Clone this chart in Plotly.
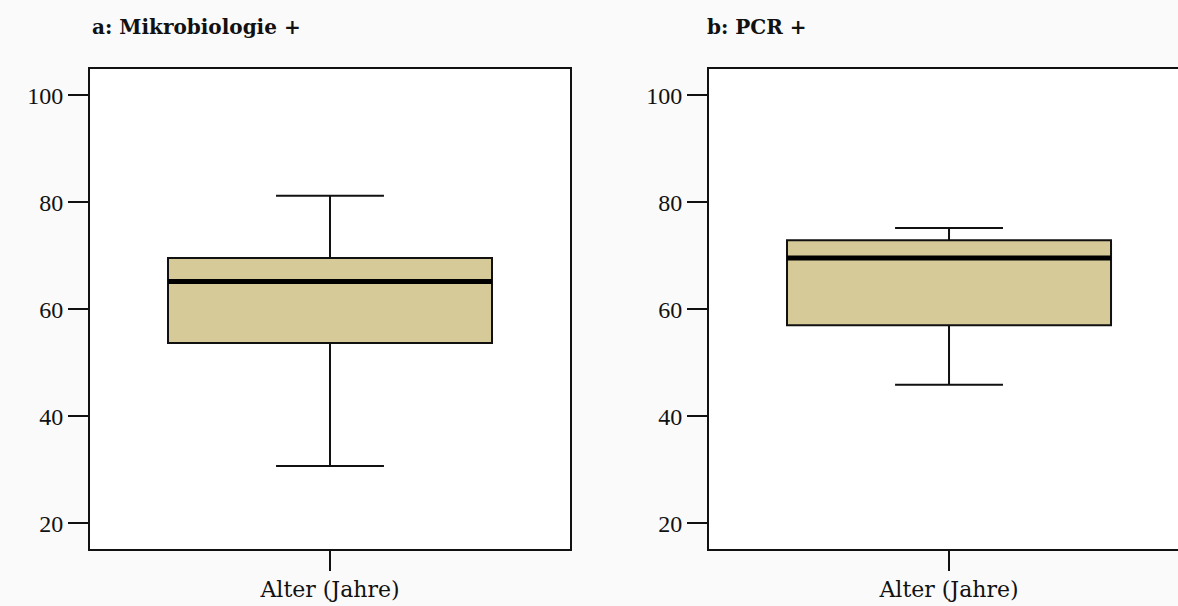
import plotly.graph_objects as go

# Box-plot summaries of age (years) for the two positive groups
panel_titles = ["a: Mikrobiologie +", "b: PCR +"]
category_label = "Alter (Jahre)"
lower_whisker = [30.7, 45.9]
q1 = [53.7, 57.0]
median = [65.2, 69.6]
q3 = [69.6, 72.9]
upper_whisker = [81.2, 75.2]
y_ticks = [20, 40, 60, 80, 100]

BOX_W = 0.675
FILL = "#d6ca99"
SERIF = "Liberation Serif"

fig = go.Figure()

for i in range(2):
    xa = "x" if i == 0 else "x2"
    ya = "y" if i == 0 else "y2"
    fig.add_trace(go.Box(
        x=[0], q1=[q1[i]], median=[median[i]], q3=[q3[i]],
        lowerfence=[lower_whisker[i]], upperfence=[upper_whisker[i]],
        width=BOX_W, whiskerwidth=0.333,
        fillcolor=FILL, line=dict(color="#111111", width=2),
        boxpoints=False, hoverinfo="skip", showlegend=False,
        xaxis=xa, yaxis=ya,
    ))
    # heavy median bar
    fig.add_trace(go.Scatter(
        x=[-BOX_W / 2, BOX_W / 2], y=[median[i], median[i]],
        mode="lines", line=dict(color="black", width=5),
        hoverinfo="skip", showlegend=False, xaxis=xa, yaxis=ya,
    ))

W, H = 1178, 606
y_dom = [1 - 549 / H, 1 - 69 / H]

xaxis_common = dict(
    tickmode="array", tickvals=[0], ticktext=[category_label],
    ticks="outside", ticklen=20, tickwidth=2, tickcolor="#111111",
    showline=True, linecolor="#111111", linewidth=2,
    showgrid=False, zeroline=False, fixedrange=True,
    tickfont=dict(family="DejaVu Serif", size=22, color="#111111"),
)
yaxis_common = dict(
    range=[15.2, 104.9], tickmode="array", tickvals=y_ticks,
    ticks="outside", ticklen=20, tickwidth=2, tickcolor="#111111",
    showline=True, linecolor="#111111", linewidth=2,
    showgrid=False, zeroline=False, fixedrange=True,
    tickfont=dict(family=SERIF, size=24, color="#111111"),
    domain=y_dom,
)

fig.update_layout(
    width=W, height=H,
    margin=dict(l=0, r=0, t=0, b=0),
    paper_bgcolor="#fafafa", plot_bgcolor="#ffffff",
    xaxis=dict(xaxis_common, domain=[90 / W, 570 / W], range=[-0.5, 0.5],
               mirror=True, anchor="y"),
    yaxis=dict(yaxis_common, mirror=True, anchor="x"),
    xaxis2=dict(xaxis_common, domain=[709 / W, 1.0], range=[-0.5, 0.477],
                mirror=True, anchor="y2"),
    yaxis2=dict(yaxis_common, mirror=False, anchor="x2"),
)

for i, x0 in enumerate([90 / W, 705 / W]):
    fig.add_annotation(
        text="<b>" + panel_titles[i] + "</b>", xref="paper", yref="paper",
        x=x0, y=1 - 27 / H, xanchor="left", yanchor="middle",
        showarrow=False,
        font=dict(family="DejaVu Serif", size=20, color="#111111"),
    )

fig.write_html("out.html")
